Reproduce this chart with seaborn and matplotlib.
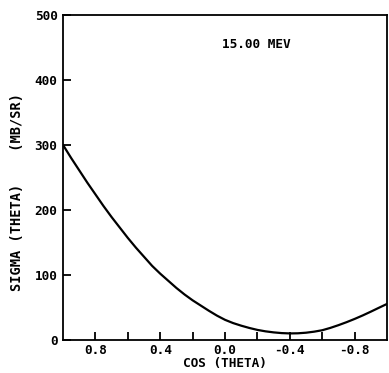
import matplotlib
matplotlib.use("Agg")
import matplotlib.pyplot as plt
import seaborn as sns
import pandas as pd

cos_theta = [1.00, 0.95, 0.90, 0.85, 0.80, 0.75, 0.70, 0.65, 0.60, 0.55,
             0.50, 0.45, 0.40, 0.35, 0.30, 0.25, 0.20, 0.15, 0.10, 0.05,
             0.00, -0.05, -0.10, -0.15, -0.20, -0.25, -0.30, -0.35, -0.40, -0.45,
             -0.50, -0.55, -0.60, -0.65, -0.70, -0.75, -0.80, -0.85, -0.90, -0.95,
             -1.00]
sigma = [300, 280, 261, 242, 224, 206, 189, 173, 157, 142,
         128, 114, 102, 91, 80, 70, 61, 53, 45, 37.5,
         31, 26, 22, 18.5, 15.5, 13.3, 11.7, 10.6, 10.1, 10.3,
         11.2, 12.8, 15, 18.6, 22.8, 27.4, 32.4, 37.8, 43.6, 49.6,
         55.5]

x_ticks = [0.8, 0.4, 0.0, -0.4, -0.8]
x_minor = [0.6, 0.2, -0.2, -0.6]
x_labels = ["0.8", "0.4", "0.0", "-0.4", "-0.8"]
y_ticks = [0, 100, 200, 300, 400, 500]
annotation = "15.00 MEV"

sns.set_style("white")
plt.rcParams['font.family'] = ['DejaVu Sans Mono', 'DejaVu Sans']
plt.rcParams['font.weight'] = 'bold'
plt.rcParams['text.color'] = 'black'
plt.rcParams['axes.labelcolor'] = 'black'

df = pd.DataFrame({"cos": cos_theta, "sigma": sigma})

fig = plt.figure(figsize=(3.89, 3.73), dpi=100)
ax = fig.add_axes([0.162, 0.0885, 0.833, 0.8715])
sns.lineplot(data=df, x="cos", y="sigma", ax=ax, color="black", linewidth=1.6)

ax.set_xlim(1.0, -1.0)
ax.set_ylim(0, 500)
ax.set_xticks(x_ticks)
ax.set_xticklabels(x_labels)
ax.set_xticks(x_minor, minor=True)
ax.set_yticks(y_ticks)
ax.tick_params(axis="both", which="both", direction="in", length=6, width=1.3,
               labelsize=9.2, colors="black", bottom=True, left=True)
ax.tick_params(axis="x", pad=3)
ax.tick_params(axis="y", pad=4)
for s in ax.spines.values():
    s.set_color("black")
    s.set_linewidth(1.3)

ax.set_xlabel("COS (THETA)", fontsize=9.2, fontweight="bold", labelpad=0, color="black")
ax.set_ylabel("SIGMA (THETA)    (MB/SR)", fontsize=9.8, fontweight="bold", color="black")
ax.yaxis.set_label_coords(-0.12, 0.455)
ax.text(0.02, 455, annotation, fontsize=9.2, fontweight="bold", ha="left", va="center",
        color="black")

fig.savefig("out.png", dpi=100)
